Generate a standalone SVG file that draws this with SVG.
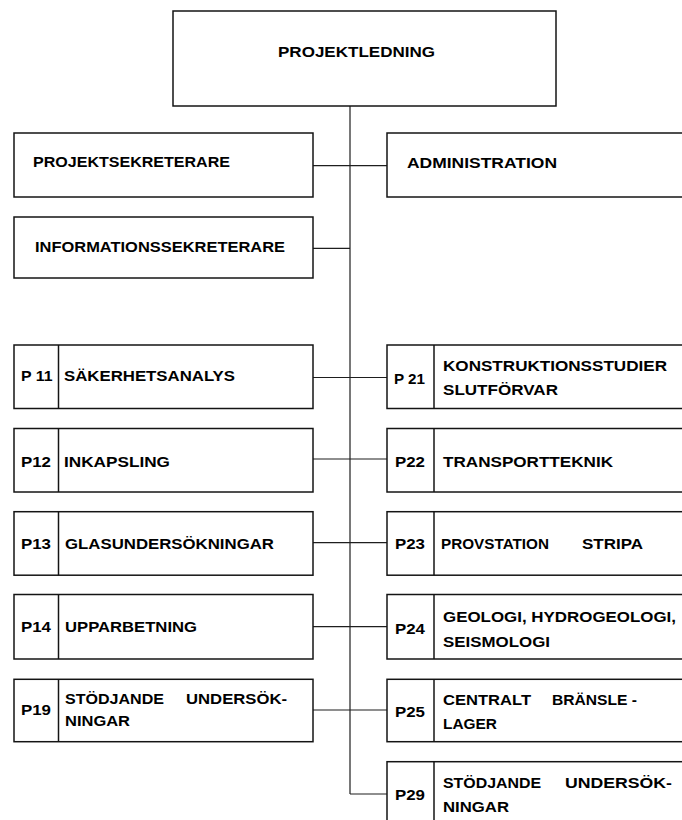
<svg xmlns="http://www.w3.org/2000/svg" width="682" height="820" viewBox="0 0 682 820">
<style>
.box{fill:none;stroke:#141414;stroke-width:1.5}
.div{fill:none;stroke:#141414;stroke-width:1.5}
.conn{fill:none;stroke:#1e1e1e;stroke-width:1.2}
.t{font-family:"Liberation Sans",Arial,Helvetica,sans-serif;font-weight:bold;font-size:15px;fill:#000}
</style>
<rect x="0" y="0" width="682" height="820" fill="#fff"/>
<g id="connectors">
<line class="conn" x1="350" y1="106" x2="350" y2="794"/>
<line class="conn" x1="313" y1="165.7" x2="387" y2="165.7"/>
<line class="conn" x1="313" y1="248.3" x2="350" y2="248.3"/>
<line class="conn" x1="313" y1="377.5" x2="387" y2="377.5"/>
<line class="conn" x1="313" y1="459" x2="387" y2="459"/>
<line class="conn" x1="313" y1="542.7" x2="387" y2="542.7"/>
<line class="conn" x1="313" y1="626.7" x2="387" y2="626.7"/>
<line class="conn" x1="313" y1="710" x2="387" y2="710"/>
<line class="conn" x1="350" y1="794" x2="387" y2="794"/>
</g>
<g id="projektledning">
<rect class="box" x="173" y="11" width="383" height="95"/>
<text class="t" x="278" y="57" textLength="157" lengthAdjust="spacingAndGlyphs">PROJEKTLEDNING</text>
</g>
<g id="projektsekreterare">
<rect class="box" x="14" y="133" width="299" height="64"/>
<text class="t" x="33" y="167" textLength="197" lengthAdjust="spacingAndGlyphs">PROJEKTSEKRETERARE</text>
</g>
<g id="administration">
<rect class="box" x="387" y="133" width="320" height="64"/>
<text class="t" x="407" y="168" textLength="150" lengthAdjust="spacingAndGlyphs">ADMINISTRATION</text>
</g>
<g id="informationssekreterare">
<rect class="box" x="14" y="217" width="299" height="61"/>
<text class="t" x="35" y="252" textLength="250" lengthAdjust="spacingAndGlyphs">INFORMATIONSSEKRETERARE</text>
</g>
<g id="p11">
<rect class="box" x="14" y="345" width="299" height="63.5"/>
<line class="div" x1="58.5" y1="345" x2="58.5" y2="408.5"/>
<text class="t" x="21" y="380.5" textLength="31.5" lengthAdjust="spacingAndGlyphs">P 11</text>
<text class="t" x="64" y="380.5" textLength="171" lengthAdjust="spacingAndGlyphs">SÄKERHETSANALYS</text>
</g>
<g id="p12">
<rect class="box" x="14" y="428.5" width="299" height="63.5"/>
<line class="div" x1="58.5" y1="428.5" x2="58.5" y2="492"/>
<text class="t" x="21" y="466.5" textLength="30" lengthAdjust="spacingAndGlyphs">P12</text>
<text class="t" x="64" y="466.5" textLength="106" lengthAdjust="spacingAndGlyphs">INKAPSLING</text>
</g>
<g id="p13">
<rect class="box" x="14" y="511.7" width="299" height="63.5"/>
<line class="div" x1="58.5" y1="511.7" x2="58.5" y2="575.2"/>
<text class="t" x="21" y="549" textLength="30" lengthAdjust="spacingAndGlyphs">P13</text>
<text class="t" x="65" y="549" textLength="209" lengthAdjust="spacingAndGlyphs">GLASUNDERSÖKNINGAR</text>
</g>
<g id="p14">
<rect class="box" x="14" y="594.5" width="299" height="64.5"/>
<line class="div" x1="58.5" y1="594.5" x2="58.5" y2="659"/>
<text class="t" x="21" y="632" textLength="30" lengthAdjust="spacingAndGlyphs">P14</text>
<text class="t" x="65" y="632" textLength="132" lengthAdjust="spacingAndGlyphs">UPPARBETNING</text>
</g>
<g id="p19">
<rect class="box" x="14" y="679.3" width="299" height="62.4"/>
<line class="div" x1="58.5" y1="679.3" x2="58.5" y2="741.7"/>
<text class="t" x="21" y="715" textLength="30" lengthAdjust="spacingAndGlyphs">P19</text>
<text class="t" x="65" y="704" textLength="99" lengthAdjust="spacingAndGlyphs">STÖDJANDE</text>
<text class="t" x="186" y="704" textLength="101" lengthAdjust="spacingAndGlyphs">UNDERSÖK-</text>
<text class="t" x="65" y="726" textLength="65" lengthAdjust="spacingAndGlyphs">NINGAR</text>
</g>
<g id="p21">
<rect class="box" x="387" y="345" width="320" height="63.5"/>
<line class="div" x1="434" y1="345" x2="434" y2="408.5"/>
<text class="t" x="394" y="383.5" textLength="31" lengthAdjust="spacingAndGlyphs">P 21</text>
<text class="t" x="443" y="371" textLength="224" lengthAdjust="spacingAndGlyphs">KONSTRUKTIONSSTUDIER</text>
<text class="t" x="443" y="395" textLength="115" lengthAdjust="spacingAndGlyphs">SLUTFÖRVAR</text>
</g>
<g id="p22">
<rect class="box" x="387" y="428.5" width="320" height="63.5"/>
<line class="div" x1="434" y1="428.5" x2="434" y2="492"/>
<text class="t" x="395" y="466.5" textLength="30" lengthAdjust="spacingAndGlyphs">P22</text>
<text class="t" x="443" y="466.5" textLength="170" lengthAdjust="spacingAndGlyphs">TRANSPORTTEKNIK</text>
</g>
<g id="p23">
<rect class="box" x="387" y="511.7" width="320" height="63.5"/>
<line class="div" x1="434" y1="511.7" x2="434" y2="575.2"/>
<text class="t" x="395" y="549" textLength="30" lengthAdjust="spacingAndGlyphs">P23</text>
<text class="t" x="441" y="549" textLength="108" lengthAdjust="spacingAndGlyphs">PROVSTATION</text>
<text class="t" x="582" y="549" textLength="61" lengthAdjust="spacingAndGlyphs">STRIPA</text>
</g>
<g id="p24">
<rect class="box" x="387" y="594.5" width="320" height="64.5"/>
<line class="div" x1="434" y1="594.5" x2="434" y2="659"/>
<text class="t" x="395" y="634" textLength="30" lengthAdjust="spacingAndGlyphs">P24</text>
<text class="t" x="443" y="622" textLength="233" lengthAdjust="spacingAndGlyphs">GEOLOGI, HYDROGEOLOGI,</text>
<text class="t" x="443" y="647" textLength="107" lengthAdjust="spacingAndGlyphs">SEISMOLOGI</text>
</g>
<g id="p25">
<rect class="box" x="387" y="679.3" width="320" height="62.4"/>
<line class="div" x1="434" y1="679.3" x2="434" y2="741.7"/>
<text class="t" x="395" y="717" textLength="30" lengthAdjust="spacingAndGlyphs">P25</text>
<text class="t" x="443" y="705" textLength="88" lengthAdjust="spacingAndGlyphs">CENTRALT</text>
<text class="t" x="552" y="705" textLength="85" lengthAdjust="spacingAndGlyphs">BRÄNSLE -</text>
<text class="t" x="443" y="728.5" textLength="54" lengthAdjust="spacingAndGlyphs">LAGER</text>
</g>
<g id="p29">
<rect class="box" x="387" y="761.7" width="320" height="80"/>
<line class="div" x1="434" y1="761.7" x2="434" y2="841.7"/>
<text class="t" x="395" y="799.5" textLength="30" lengthAdjust="spacingAndGlyphs">P29</text>
<text class="t" x="443" y="788" textLength="98" lengthAdjust="spacingAndGlyphs">STÖDJANDE</text>
<text class="t" x="565" y="788" textLength="107" lengthAdjust="spacingAndGlyphs">UNDERSÖK-</text>
<text class="t" x="443" y="812" textLength="66" lengthAdjust="spacingAndGlyphs">NINGAR</text>
</g>
</svg>
